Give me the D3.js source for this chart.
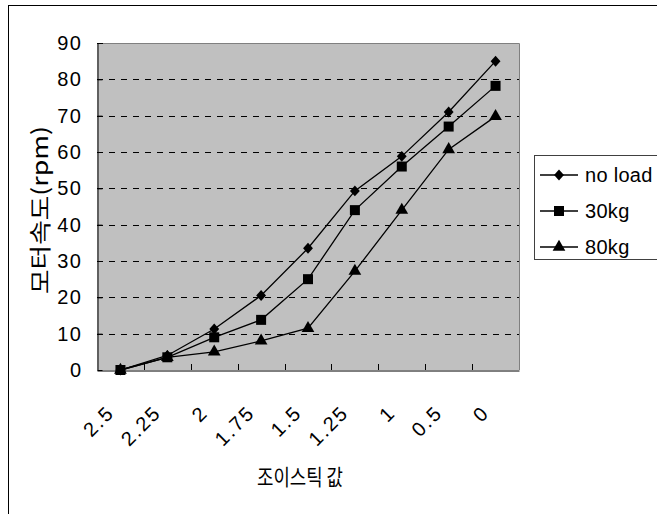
<!DOCTYPE html>
<html><head><meta charset="utf-8">
<script src="https://cdn.jsdelivr.net/npm/d3@7"></script>
<style>body{margin:0;background:#fff}svg{display:block}</style>
</head><body>
<svg id="c" width="657" height="514"></svg>
<script>
const categories = ["2.5","2.25","2","1.75","1.5","1.25","1","0.5","0"];
const noLoad = [0, 4, 11.3, 20.5, 33.5, 49.3, 58.8, 71, 85];
const kg30   = [0, 3.5, 9, 13.8, 25, 44, 56, 67, 78.2];
const kg80   = [0, 3.5, 5, 8, 11.5, 27.2, 44, 60.7, 69.8];
const seriesNames = ["no load","30kg","80kg"];
const yTicks = [0,10,20,30,40,50,60,70,80,90];

const diamond = {draw(ctx, size){ const r = Math.sqrt(size/2); ctx.moveTo(0,-r); ctx.lineTo(r*0.9,0); ctx.lineTo(0,r); ctx.lineTo(-r*0.9,0); ctx.closePath(); }};
const series = [
  {name: seriesNames[0], values: noLoad, shape: diamond, size: 60},
  {name: seriesNames[1], values: kg30, shape: d3.symbolSquare, size: 100},
  {name: seriesNames[2], values: kg80, shape: d3.symbolTriangle, size: 70}
];

const svg = d3.select("#c");
const L = 97, R = 519, T = 43, B = 370;
const font = "'Liberation Sans', Arial, sans-serif";
const kfont = "'Noto Sans CJK KR', sans-serif";

svg.append("rect").attr("x",8.5).attr("y",5.5).attr("width",700).attr("height",600)
  .attr("fill","none").attr("stroke","#000").attr("stroke-width",1);

const x = d3.scaleBand().domain(categories).range([L, R]).padding(0);
const y = d3.scaleLinear().domain([0, 90]).range([B, T]);

svg.append("rect").attr("x",L).attr("y",T).attr("width",R-L).attr("height",B-T)
  .attr("fill","#c0c0c0");
svg.append("path").attr("d",`M${L},${T+0.5}H${R+0.5}V${B}`).attr("fill","none")
  .attr("stroke","#808080").attr("stroke-width",1);

svg.append("g").selectAll("line").data(yTicks.filter(t=>t>0 && t<90)).join("line")
  .attr("x1",L).attr("x2",R).attr("y1",d=>Math.round(y(d))+0.5).attr("y2",d=>Math.round(y(d))+0.5)
  .attr("stroke","#000").attr("stroke-width",1).attr("stroke-dasharray","6,6");

const yAxis = d3.axisLeft(y).tickValues(yTicks).tickSizeInner(-5).tickSizeOuter(0).tickPadding(15);
const gy = svg.append("g").attr("transform",`translate(${L+0.5},0)`).call(yAxis);
gy.select(".domain").attr("stroke","#000");
gy.selectAll(".tick line").attr("stroke","#000");
gy.selectAll("text").attr("font-family",font).attr("font-size",20).attr("fill","#000")
  .attr("letter-spacing","1.5px");

const xAxis = d3.axisBottom(x).tickSize(0).tickSizeOuter(0).tickFormat("");
const gx = svg.append("g").attr("transform",`translate(0,${B+0.5})`).call(xAxis);
gx.select(".domain").attr("stroke","#000");
gx.selectAll(".tick").remove();
svg.append("g").selectAll("line").data(categories.slice(1)).join("line")
  .attr("x1",d=>Math.round(x(d))+0.5).attr("x2",d=>Math.round(x(d))+0.5)
  .attr("y1",B).attr("y2",B-6).attr("stroke","#000");
svg.append("line").attr("x1",L).attr("x2",L+6).attr("y1",T+0.5).attr("y2",T+0.5).attr("stroke","#000");

svg.append("g").selectAll("text").data(categories).join("text")
  .attr("transform",d=>`translate(${x(d)+x.bandwidth()/2 - 5},${414}) rotate(-45)`)
  .attr("text-anchor","end")
  .attr("font-family",font).attr("font-size",20).attr("letter-spacing","2px").attr("fill","#000")
  .text(d=>d);

const cx = d => x(d) + x.bandwidth()/2;
const line = d3.line().x((v,i)=>cx(categories[i])).y(v=>y(v));
series.forEach((s)=>{
  svg.append("path").attr("d",line(s.values)).attr("fill","none").attr("stroke","#000").attr("stroke-width",1.3);
  svg.append("g").selectAll("path").data(s.values).join("path")
    .attr("transform",(v,i)=>`translate(${cx(categories[i])},${y(v)})`)
    .attr("d",d3.symbol().type(s.shape).size(s.size)).attr("fill","#000");
});

svg.append("text").attr("transform","translate(48,210) rotate(-90)")
  .attr("text-anchor","middle").attr("font-family",kfont).attr("font-size",22).attr("fill","#000")
  .attr("textLength",168).attr("lengthAdjust","spacingAndGlyphs")
  .text("모터속도(rpm)");
svg.append("text").attr("x",300).attr("y",485).attr("text-anchor","middle")
  .attr("font-family",kfont).attr("font-size",22).attr("fill","#000")
  .attr("textLength",86).attr("lengthAdjust","spacingAndGlyphs")
  .text("조이스틱 값");

const lg = svg.append("g");
lg.append("rect").attr("x",534.5).attr("y",155.5).attr("width",140).attr("height",104)
  .attr("fill","#fff").attr("stroke","#404040");
const ly = [175, 211, 247];
series.forEach((s,i)=>{
  lg.append("line").attr("x1",540).attr("x2",578).attr("y1",ly[i]).attr("y2",ly[i]).attr("stroke","#000").attr("stroke-width",1.3);
  lg.append("path").attr("transform",`translate(559,${ly[i]})`).attr("d",d3.symbol().type(s.shape).size(s.size)).attr("fill","#000");
  lg.append("text").attr("x",585).attr("y",ly[i]).attr("dy","0.35em")
    .attr("font-family",font).attr("font-size",20).attr("letter-spacing","0.3px").attr("fill","#000")
    .text(s.name);
});
</script>
</body></html>
